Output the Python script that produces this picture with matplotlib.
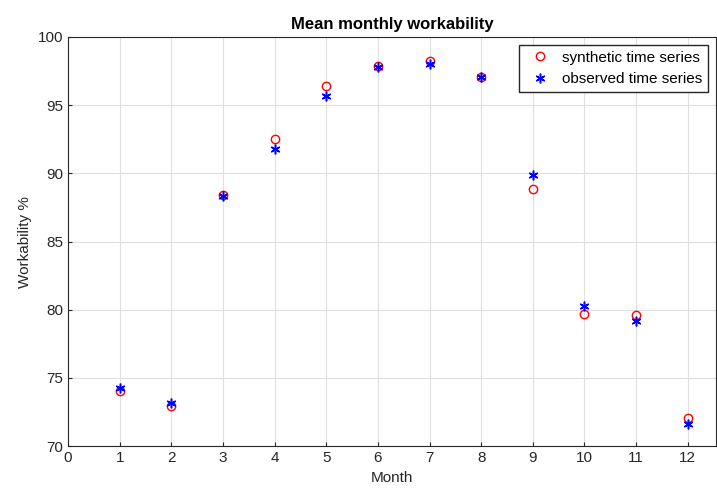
import matplotlib
matplotlib.use("Agg")
import matplotlib.pyplot as plt

months = list(range(1, 13))
synthetic = [74.03, 72.93, 88.4, 92.5, 96.4, 97.9, 98.25, 97.05, 88.85, 79.7, 79.6, 72.05]
observed = [74.25, 73.15, 88.35, 91.8, 95.7, 97.8, 98.05, 97.1, 89.9, 80.3, 79.15, 71.65]

plt.rcParams['font.family'] = ['Liberation Sans', 'DejaVu Sans']
fig = plt.figure(figsize=(7.17, 4.93), dpi=100)
ax = fig.add_axes([0.095, 0.095, 0.903, 0.83])
ax.plot(months, synthetic, 'o', mfc='none', mec='red', ms=6, mew=1, label='synthetic time series')
ax.plot(months, observed, marker=(6, 2, 0), color='blue', ms=7, mew=1.1, label='observed time series', linestyle='none')
ax.set_xlim(0, 12.54)
ax.set_ylim(70, 100)
ax.set_xticks(range(0, 13))
ax.set_yticks(range(70, 101, 5))
ax.grid(True, color='#e0e0e0', linewidth=0.8)
ax.set_axisbelow(True)
for s in ax.spines.values():
    s.set_color('#262626'); s.set_linewidth(0.8)
ax.tick_params(labelsize=11, colors='#262626', direction='in', length=3)
ax.set_xlabel('Month', fontsize=11, color='#262626')
ax.set_ylabel('Workability %', fontsize=11, color='#262626')
ax.set_title('Mean monthly workability', fontsize=12, fontweight='bold', color='black')
ax.legend(loc='upper right', fontsize=11, fancybox=False, edgecolor='#262626', framealpha=1, handletextpad=0.4, borderaxespad=0.5)
fig.savefig('out.png', dpi=100)
